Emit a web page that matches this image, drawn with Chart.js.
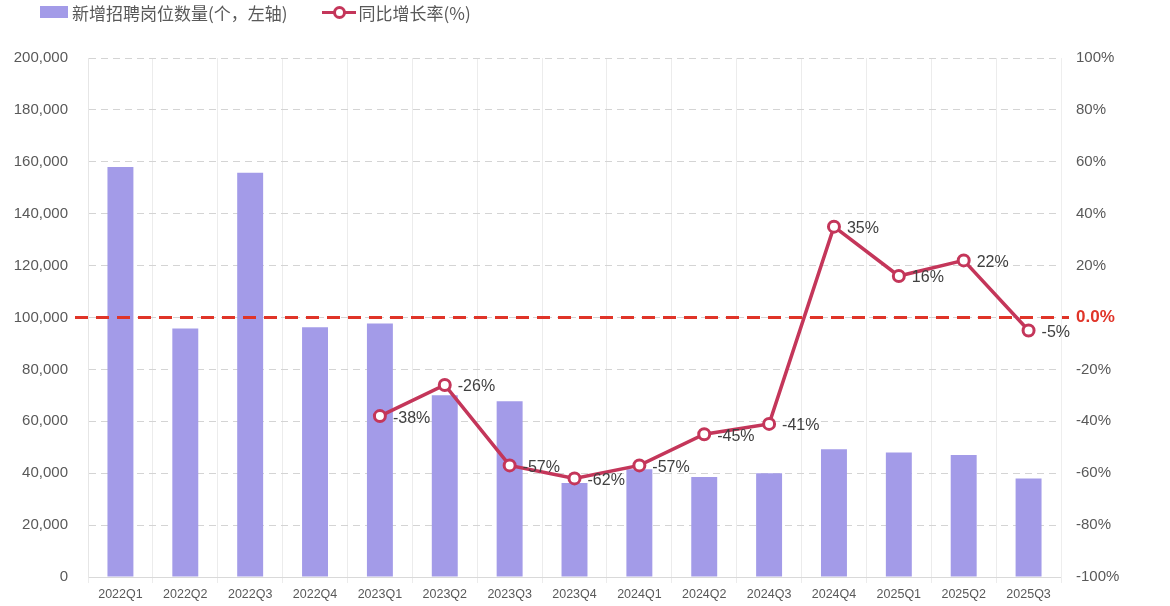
<!DOCTYPE html>
<html>
<head>
<meta charset="utf-8">
<script src="https://cdn.jsdelivr.net/npm/chart.js@4/dist/chart.umd.min.js"></script>
<style>
  html, body { margin: 0; padding: 0; background: #fff; }
  #wrap { position: relative; width: 1170px; height: 606px; }
  #legend {
    position: absolute; left: 40px; top: 0; height: 24px;
    display: flex; align-items: center;
    font-family: "Noto Sans CJK SC", "Noto Sans", sans-serif; font-size: 17px; color: #595959;
  }
  .sw-bar { width: 28px; height: 12px; background: rgb(163, 155, 232); margin-right: 4px; }
  .sw-line { position: relative; width: 34px; height: 12px; margin: 0 3px 0 34px; }
  .sw-line::before { content: ""; position: absolute; left: 0; right: 0; top: 5px; height: 3px; background: rgb(196, 54, 90); }
  .sw-line::after { content: ""; position: absolute; left: 11px; top: 0; width: 7px; height: 7px; border: 3px solid rgb(196, 54, 90); border-radius: 50%; background: #fff; }
</style>
</head>
<body>
<div id="wrap">
  <canvas id="chart" width="1170" height="606"></canvas>
  <div id="legend">
    <span class="sw-bar"></span><span>新增招聘岗位数量(个，左轴)</span>
    <span class="sw-line"></span><span>同比增长率(%)</span>
  </div>
</div>
<script>
const QUARTERS = ["2022Q1", "2022Q2", "2022Q3", "2022Q4", "2023Q1", "2023Q2", "2023Q3", "2023Q4",
  "2024Q1", "2024Q2", "2024Q3", "2024Q4", "2025Q1", "2025Q2", "2025Q3"];
const POSTINGS = [158000, 95800, 155800, 96200, 97700, 70000, 67700, 36200,
  41500, 38500, 40000, 49200, 48000, 47000, 38000];
const YOY = [null, null, null, null, -38, -26, -57, -62, -57, -45, -41, 35, 16, 22, -5];
const REF_VALUE = 0;

const BAR_COLOR = "rgb(163, 155, 232)";
const LINE_COLOR = "rgb(196, 54, 90)";
const REF_COLOR = "rgb(224, 52, 40)";
const TICK_COLOR = "#595959";

// red dashed zero line, drawn right after the bars so the line series sits on top
const refLine = {
  id: "refLine",
  afterDatasetDraw(chart, args) {
    if (args.index !== 0) return;
    const y = chart.scales.y1.getPixelForValue(REF_VALUE);
    const ctx = chart.ctx;
    ctx.save();
    ctx.strokeStyle = REF_COLOR;
    ctx.lineWidth = 3;
    ctx.setLineDash([13, 8]);
    ctx.beginPath();
    ctx.moveTo(chart.chartArea.left - 13, y);
    ctx.lineTo(chart.chartArea.right + 8, y);
    ctx.stroke();
    ctx.restore();
  },
};

const pointLabels = {
  id: "pointLabels",
  afterDatasetsDraw(chart) {
    const meta = chart.getDatasetMeta(1);
    const ctx = chart.ctx;
    ctx.save();
    ctx.font = '16px "Liberation Sans", Arial, sans-serif';
    ctx.fillStyle = "#404040";
    ctx.textBaseline = "middle";
    ctx.textAlign = "left";
    meta.data.forEach((pt, i) => {
      const v = YOY[i];
      if (v == null) return;
      ctx.fillText(v + "%", pt.x + 13, pt.y + 2);
    });
    ctx.restore();
  },
};

new Chart(document.getElementById("chart"), {
  data: {
    labels: QUARTERS,
    datasets: [
      {
        type: "bar",
        label: "新增招聘岗位数量(个，左轴)",
        data: POSTINGS,
        yAxisID: "y",
        backgroundColor: BAR_COLOR,
        barPercentage: 0.4,
        categoryPercentage: 1,
        order: 1,
      },
      {
        type: "line",
        label: "同比增长率(%)",
        data: YOY,
        yAxisID: "y1",
        borderColor: LINE_COLOR,
        borderWidth: 3.5,
        pointRadius: 5.5,
        pointBorderWidth: 3,
        pointBackgroundColor: "#fff",
        pointBorderColor: LINE_COLOR,
        tension: 0,
        spanGaps: false,
        order: 0,
      },
    ],
  },
  options: {
    responsive: false,
    animation: false,
    layout: { padding: { top: 58, left: 0, right: 0, bottom: 0 } },
    plugins: { legend: { display: false }, tooltip: { enabled: false } },
    scales: {
      x: {
        offset: true,
        grid: { offset: true, color: "#ececec", tickLength: 6, drawTicks: true },
        border: { color: "#d9d9d9" },
        ticks: {
          color: TICK_COLOR,
          padding: 4,
          maxRotation: 0,
          font: { family: '"Liberation Sans Narrow", "Liberation Sans", Arial', size: 12.5 },
        },
        afterFit(scale) { scale.height = 28; },
      },
      y: {
        position: "left",
        min: 0,
        max: 200000,
        grid: { color: "#d4d4d4", drawTicks: false },
        border: { color: "#e6e6e6", dash: [7, 5] },
        ticks: {
          stepSize: 20000,
          padding: 20,
          color: TICK_COLOR,
          font: { family: '"Liberation Sans", Arial', size: 15 },
          callback: (v) => v.toLocaleString("en-US"),
        },
        afterFit(scale) { scale.width = 88; },
      },
      y1: {
        position: "right",
        min: -100,
        max: 100,
        grid: { display: false, drawTicks: false },
        border: { color: "#eeeeee" },
        ticks: {
          stepSize: 20,
          padding: 15,
          color: (c) => (c.tick.value === REF_VALUE ? REF_COLOR : TICK_COLOR),
          font: (c) => ({
            family: '"Liberation Sans", Arial',
            size: c.tick && c.tick.value === REF_VALUE ? 17 : 15,
            weight: c.tick && c.tick.value === REF_VALUE ? "bold" : "normal",
          }),
          callback: (v) => (v === REF_VALUE ? "0.0%" : v + "%"),
        },
        afterFit(scale) { scale.width = 109; },
      },
    },
  },
  plugins: [refLine, pointLabels],
});
</script>
</body>
</html>
